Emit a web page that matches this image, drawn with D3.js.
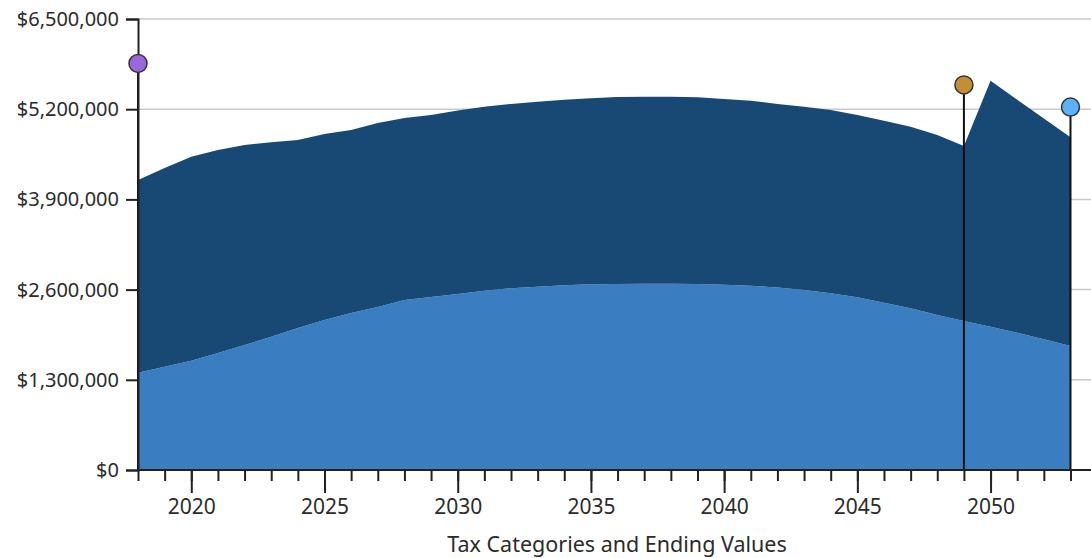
<!DOCTYPE html>
<html>
<head>
<meta charset="utf-8">
<script src="https://cdn.jsdelivr.net/npm/d3@7"></script>
<style>
  body { margin: 0; background: #fff; }
  svg { display: block; font-family: "Noto Sans", sans-serif; }
</style>
</head>
<body>
<svg id="chart" width="1091" height="558"></svg>
<script>
// Data
const years = d3.range(2018, 2054);
const lowerValues = [
  1402000, 1489000, 1575000, 1686000, 1802000, 1921000, 2047000, 2162000, 2263000, 2349000,
  2450000, 2493000, 2537000, 2584000, 2619000, 2642000, 2662000, 2676000, 2681000, 2685000,
  2685000, 2681000, 2671000, 2656000, 2630000, 2594000, 2547000, 2489000, 2411000, 2330000,
  2234000, 2147000, 2065000, 1979000, 1884000, 1787000
];
const upperValues = [
  2777000, 2863000, 2940000, 2926000, 2882000, 2802000, 2709000, 2680000, 2637000, 2652000,
  2623000, 2623000, 2643000, 2652000, 2656000, 2666000, 2675000, 2681000, 2695000, 2695000,
  2695000, 2690000, 2676000, 2666000, 2645000, 2642000, 2641000, 2627000, 2623000, 2618000,
  2594000, 2522000, 3546000, 3359000, 3183000, 3008000
];
const yTicks = [0, 1300000, 2600000, 3900000, 5200000, 6500000];
const xLabels = [2020, 2025, 2030, 2035, 2040, 2045, 2050];
const markerYears = [2018, 2049, 2053];
const markerValues = [5860000, 5550000, 5230000];
const markerColors = ["#9a68dc", "#c28e36", "#5cb1fd"];

const svg = d3.select("#chart");
const plotLeft = 138, plotRight = 1091, plotTop = 19, plotBottom = 470;

const x = d3.scaleLinear().domain([2018, 2053.77]).range([plotLeft, plotRight]);
const y = d3.scaleLinear().domain([0, 6500000]).range([plotBottom, plotTop]);

// Gridlines
svg.append("g")
  .selectAll("line")
  .data(yTicks.slice(1))
  .enter().append("line")
  .attr("x1", plotLeft).attr("x2", plotRight)
  .attr("y1", d => y(d)).attr("y2", d => y(d))
  .attr("stroke", "#c9c9c9")
  .attr("stroke-width", 1.5);

// Stacked areas
const table = years.map((yr, i) => ({ year: yr, lower: lowerValues[i], upper: upperValues[i] }));
const stack = d3.stack().keys(["lower", "upper"])(table);
const colors = { lower: "#3a7ec1", upper: "#184874" };

const area = d3.area()
  .x(d => x(d.data.year))
  .y0(d => y(d[0]))
  .y1(d => y(d[1]));

svg.append("g")
  .selectAll("path")
  .data(stack)
  .enter().append("path")
  .attr("d", area)
  .attr("fill", d => colors[d.key]);

// Marker stems
svg.append("g")
  .selectAll("line")
  .data(markerYears)
  .enter().append("line")
  .attr("x1", d => x(d)).attr("x2", d => x(d))
  .attr("y1", (d, i) => y(markerValues[i]))
  .attr("y2", plotBottom)
  .attr("stroke", "#111")
  .attr("stroke-width", 2);

// Y axis
const yAxis = svg.append("g")
  .attr("transform", `translate(${plotLeft},0)`)
  .call(d3.axisLeft(y).tickValues(yTicks).tickSize(12).tickPadding(7)
    .tickFormat(d => "$" + d3.format(",")(d)));
yAxis.select(".domain").attr("stroke", "#222").attr("stroke-width", 2);
yAxis.selectAll(".tick line").attr("stroke", "#222").attr("stroke-width", 2);
yAxis.selectAll("text").attr("fill", "#2b2b2b").style("font-size", "20px")
  .style("font-family", "Noto Sans");

// X axis: minor ticks every year
const xAxisMinor = svg.append("g")
  .attr("transform", `translate(0,${plotBottom})`)
  .call(d3.axisBottom(x).tickValues(years).tickSize(11).tickFormat(""));
xAxisMinor.select(".domain").attr("stroke", "#222").attr("stroke-width", 2)
  .attr("d", `M${plotLeft},0H${plotRight}`);
xAxisMinor.selectAll(".tick line").attr("stroke", "#222").attr("stroke-width", 2);

// X axis: major ticks with labels
const xAxisMajor = svg.append("g")
  .attr("transform", `translate(0,${plotBottom})`)
  .call(d3.axisBottom(x).tickValues(xLabels).tickSize(23).tickPadding(6)
    .tickFormat(d3.format("d")));
xAxisMajor.select(".domain").remove();
xAxisMajor.selectAll(".tick line").attr("stroke", "#222").attr("stroke-width", 2);
xAxisMajor.selectAll("text").attr("fill", "#2b2b2b").style("font-size", "21px")
  .style("font-family", "Noto Sans");

// Markers
svg.append("g")
  .selectAll("circle")
  .data(markerYears)
  .enter().append("circle")
  .attr("cx", d => x(d))
  .attr("cy", (d, i) => y(markerValues[i]))
  .attr("r", 9)
  .attr("fill", (d, i) => markerColors[i])
  .attr("stroke", "#333")
  .attr("stroke-width", 1.5);

// Axis title
svg.append("text")
  .attr("x", 617)
  .attr("y", 552)
  .attr("text-anchor", "middle")
  .attr("fill", "#2b2b2b")
  .style("font-size", "21.5px")
  .text("Tax Categories and Ending Values");
</script>
</body>
</html>
